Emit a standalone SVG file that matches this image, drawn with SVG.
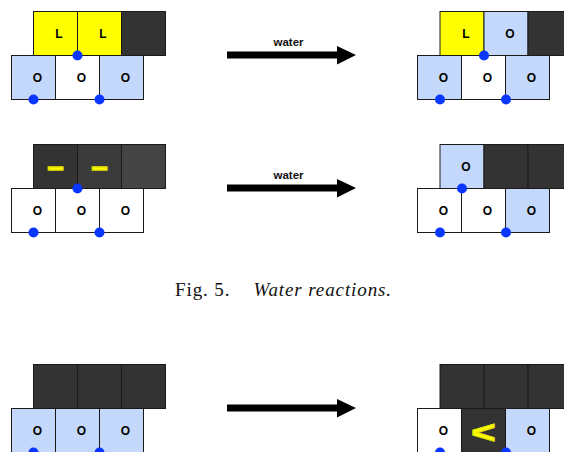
<svg xmlns="http://www.w3.org/2000/svg" width="564" height="452" viewBox="0 0 564 452">
<defs>
<style>
.c{stroke:#1a1a1a;stroke-width:1}
.y{fill:#ffff00}
.b{fill:#c4d8fb}
.w{fill:#ffffff}
.d{fill:#333333}
.lb{font-family:"Liberation Sans",Arial,sans-serif;font-weight:bold;font-size:12px;fill:#000;text-anchor:middle}
.dot{fill:#0a37ff}
.ar{stroke:#000;stroke-width:7;fill:none}
.ah{fill:#000}
.wt{font-family:"Liberation Sans",Arial,sans-serif;font-weight:bold;font-size:11.5px;fill:#111;text-anchor:middle}
.ys{font-family:"Liberation Sans",Arial,sans-serif;font-weight:bold;fill:#ffff00;stroke:#e6e600;text-anchor:middle}
</style>
</defs>
<rect width="564" height="452" fill="#fff"/>

<!-- Panel 1 left -->
<g id="p1-left">
<rect class="c y" x="33.5" y="11.5" width="44" height="44"/>
<rect class="c y" x="77.5" y="11.5" width="44" height="44"/>
<rect class="c d" x="121.5" y="11.5" width="44" height="44"/>
<rect class="c b" x="11.5" y="55.5" width="44" height="44"/>
<rect class="c w" x="55.5" y="55.5" width="44" height="44"/>
<rect class="c b" x="99.5" y="55.5" width="44" height="44"/>
<text class="lb" x="59" y="38">L</text>
<text class="lb" x="103" y="38">L</text>
<text class="lb" x="37.5" y="82">O</text>
<text class="lb" x="81.5" y="82">O</text>
<text class="lb" x="125.5" y="82">O</text>
<circle class="dot" cx="77.5" cy="55.5" r="5"/>
<circle class="dot" cx="33.5" cy="99.5" r="5"/>
<circle class="dot" cx="99.5" cy="99.5" r="5"/>
</g>

<!-- Panel 1 right -->
<g id="p1-right">
<rect class="c y" x="440" y="11.5" width="44" height="44"/>
<rect class="c b" x="484" y="11.5" width="44" height="44"/>
<rect class="c d" x="528" y="11.5" width="44" height="44"/>
<rect class="c b" x="417.5" y="55.5" width="44" height="44"/>
<rect class="c w" x="461.5" y="55.5" width="44" height="44"/>
<rect class="c b" x="505.5" y="55.5" width="44" height="44"/>
<text class="lb" x="466" y="38">L</text>
<text class="lb" x="510" y="38">O</text>
<text class="lb" x="443.5" y="82">O</text>
<text class="lb" x="487.5" y="82">O</text>
<text class="lb" x="531.5" y="82">O</text>
<circle class="dot" cx="484" cy="55.5" r="5"/>
<circle class="dot" cx="440" cy="99.5" r="5"/>
<circle class="dot" cx="506" cy="99.5" r="5"/>
</g>

<!-- Panel 2 left -->
<g id="p2-left">
<rect class="c" fill="#333333" x="33.5" y="144.5" width="44" height="44"/>
<rect class="c" fill="#3b3b3b" x="77.5" y="144.5" width="44" height="44"/>
<rect class="c" fill="#444444" x="121.5" y="144.5" width="44" height="44"/>
<rect class="c w" x="11.5" y="188.5" width="44" height="44"/>
<rect class="c w" x="55.5" y="188.5" width="44" height="44"/>
<rect class="c w" x="99.5" y="188.5" width="44" height="44"/>
<text class="ys" x="55.5" y="177" font-size="29" stroke-width="1.5">–</text>
<text class="ys" x="99.5" y="177" font-size="29" stroke-width="1.5">–</text>
<text class="lb" x="37.5" y="215">O</text>
<text class="lb" x="81.5" y="215">O</text>
<text class="lb" x="125.5" y="215">O</text>
<circle class="dot" cx="77.5" cy="188.5" r="5"/>
<circle class="dot" cx="33.5" cy="232.5" r="5"/>
<circle class="dot" cx="99.5" cy="232.5" r="5"/>
</g>

<!-- Panel 2 right -->
<g id="p2-right">
<rect class="c b" x="440" y="144.5" width="44" height="44"/>
<rect class="c d" x="484" y="144.5" width="44" height="44"/>
<rect class="c d" x="528" y="144.5" width="44" height="44"/>
<rect class="c w" x="417.5" y="188.5" width="44" height="44"/>
<rect class="c w" x="461.5" y="188.5" width="44" height="44"/>
<rect class="c b" x="505.5" y="188.5" width="44" height="44"/>
<text class="lb" x="466" y="171">O</text>
<text class="lb" x="443.5" y="215">O</text>
<text class="lb" x="487.5" y="215">O</text>
<text class="lb" x="531.5" y="215">O</text>
<circle class="dot" cx="462" cy="188.5" r="5"/>
<circle class="dot" cx="440" cy="232.5" r="5"/>
<circle class="dot" cx="506" cy="232.5" r="5"/>
</g>

<!-- Panel 3 left -->
<g id="p3-left">
<rect class="c d" x="33.5" y="364.5" width="44" height="44"/>
<rect class="c d" x="77.5" y="364.5" width="44" height="44"/>
<rect class="c d" x="121.5" y="364.5" width="44" height="44"/>
<rect class="c b" x="11.5" y="408.5" width="44" height="44"/>
<rect class="c b" x="55.5" y="408.5" width="44" height="44"/>
<rect class="c b" x="99.5" y="408.5" width="44" height="44"/>
<text class="lb" x="37.5" y="435">O</text>
<text class="lb" x="81.5" y="435">O</text>
<text class="lb" x="125.5" y="435">O</text>
<circle class="dot" cx="33.5" cy="452.5" r="5"/>
<circle class="dot" cx="99.5" cy="452.5" r="5"/>
</g>

<!-- Panel 3 right -->
<g id="p3-right">
<rect class="c d" x="440" y="364.5" width="44" height="44"/>
<rect class="c d" x="484" y="364.5" width="44" height="44"/>
<rect class="c d" x="528" y="364.5" width="44" height="44"/>
<rect class="c w" x="417.5" y="408.5" width="44" height="44"/>
<rect class="c d" x="461.5" y="408.5" width="44" height="44"/>
<rect class="c b" x="505.5" y="408.5" width="44" height="44"/>
<text class="lb" x="443.5" y="435">O</text>
<text class="ys" x="0" y="0" font-size="32" stroke-width="1.2" transform="translate(483.5 442.5) scale(1.3 1)">&lt;</text>
<text class="lb" x="531.5" y="435">O</text>
<circle class="dot" cx="440" cy="452.5" r="5"/>
<circle class="dot" cx="506" cy="452.5" r="5"/>
</g>

<!-- Connectors -->
<g id="connectors">
<line class="ar" x1="227" y1="55" x2="339" y2="55"/>
<polygon class="ah" points="337,46 356,55 337,64.5"/>
<text class="wt" x="288.5" y="45.5">water</text>
<line class="ar" x1="227" y1="188" x2="339" y2="188"/>
<polygon class="ah" points="337,179 356,188 337,197.5"/>
<text class="wt" x="288.5" y="178.5">water</text>
<line class="ar" x1="227" y1="408" x2="339" y2="408"/>
<polygon class="ah" points="337,399 356,408 337,417.5"/>
</g>

<!-- Caption -->
<text id="caption" x="175" y="296" font-family="'Liberation Serif','Times New Roman',serif" font-size="19" fill="#111" letter-spacing="0.9">Fig. 5.<tspan dx="23" font-style="italic">Water reactions.</tspan></text>
</svg>
